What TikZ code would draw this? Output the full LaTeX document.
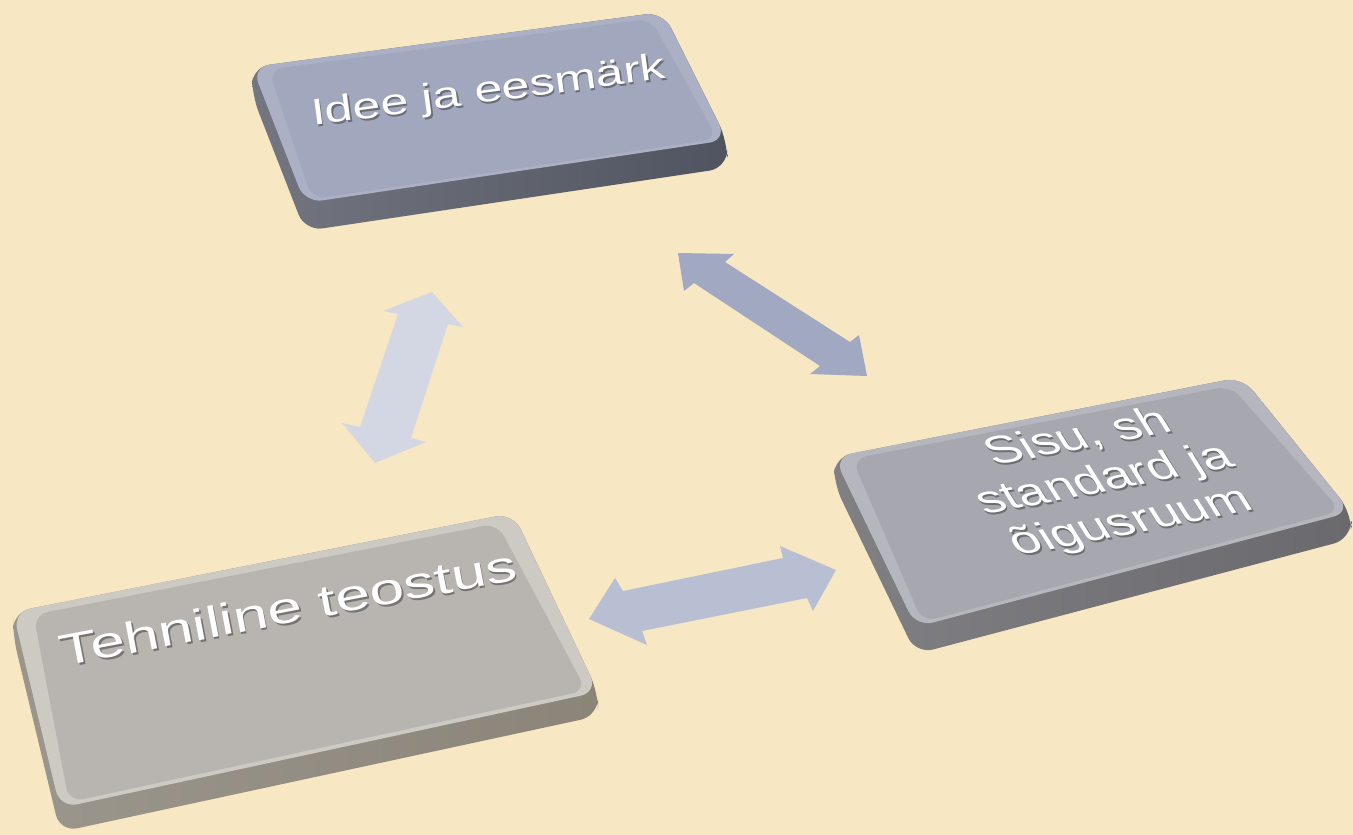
\documentclass[tikz,border=0pt]{standalone}
\usepackage{fontspec}
\setmainfont{Liberation Sans}
\usetikzlibrary{calc}
\definecolor{bgcol}{RGB}{248,231,195}
\definecolor{ideerim}{RGB}{171,176,197}
\definecolor{ideeface}{RGB}{161,167,188}
\definecolor{ideeside}{RGB}{80,84,96}
\definecolor{sisurim}{RGB}{182,183,190}
\definecolor{sisuface}{RGB}{166,167,175}
\definecolor{sisuside}{RGB}{106,106,110}
\definecolor{tehnrim}{RGB}{205,201,195}
\definecolor{tehnface}{RGB}{184,180,176}
\definecolor{tehnside}{RGB}{138,132,121}
\definecolor{arrowA}{RGB}{211,215,227}
\definecolor{arrowB}{RGB}{160,168,194}
\definecolor{arrowC}{RGB}{185,191,211}
\tikzset{
  slabouter/.style={rounded corners=10pt},
  slabinner/.style={rounded corners=8pt},
  slabtext/.style={text=white, inner sep=0pt},
  slabshadow/.style={text=black!75, opacity=0.55, inner sep=0pt}
}
\begin{document}
\begin{tikzpicture}[x=0.02cm,y=-0.02cm]
	\fill[bgcol] (0,0) rectangle (1353,835);
	\useasboundingbox (0,0) rectangle (1353,835);
	\coordinate (a1) at (252,67);
	\coordinate (a2) at (663,12);
	\coordinate (a3) at (727,140);
	\coordinate (a4) at (305,203);
	\shade[slabouter, left color=ideeside!80!white, right color=ideeside] (a1) -- (a2) -- (a3) -- ($(a3)+(0,28)$) -- ($(a4)+(0,28)$) -- ($(a1)+(0,28)$) -- cycle;
	\fill[slabouter, ideerim] (a1) -- (a2) -- (a3) -- (a4) -- cycle;
	\fill[slabinner, ideeface] ($(a1)!0.035!(a3)$) -- ($(a2)!0.035!(a4)$) -- ($(a3)!0.02!(a1)$) -- ($(a4)!0.02!(a2)$) -- cycle;
	\coordinate (b1) at (834,457);
	\coordinate (b2) at (1242,377);
	\coordinate (b3) at (1351,512);
	\coordinate (b4) at (916,627);
	\shade[slabouter, left color=sisuside!85!white, right color=sisuside] (b1) -- (b2) -- (b3) -- ($(b3)+(0,27)$) -- ($(b4)+(0,27)$) -- ($(b1)+(0,27)$) -- cycle;
	\fill[slabouter, sisurim] (b1) -- (b2) -- (b3) -- (b4) -- cycle;
	\fill[slabinner, sisuface] ($(b1)!0.035!(b3)$) -- ($(b2)!0.035!(b4)$) -- ($(b3)!0.02!(b1)$) -- ($(b4)!0.02!(b2)$) -- cycle;
	\coordinate (c1) at (13,612);
	\coordinate (c2) at (513,513);
	\coordinate (c3) at (598,692);
	\coordinate (c4) at (60,808);
	\shade[slabouter, left color=tehnside!85!white, right color=tehnside] (c1) -- (c2) -- (c3) -- ($(c3)+(0,24)$) -- ($(c4)+(0,24)$) -- ($(c1)+(0,24)$) -- cycle;
	\fill[slabouter, tehnrim] (c1) -- (c2) -- (c3) -- (c4) -- cycle;
	\fill[slabinner, tehnface] ($(c1)!0.035!(c3)$) -- ($(c2)!0.035!(c4)$) -- ($(c3)!0.02!(c1)$) -- ($(c4)!0.02!(c2)$) -- cycle;
	\fill[arrowA] (432,292) -- (463,327) -- (448,324) -- (411,438) -- (426,442) -- (375,463) -- (342,423) -- (360,427) -- (398,314) -- (383,311) -- cycle;
	\fill[arrowB] (678,253) -- (734,254) -- (725,262) -- (850,342) -- (859,335) -- (867,376) -- (810,374) -- (820,366) -- (694,283) -- (684,291) -- cycle;
	\fill[arrowC] (589,619) -- (615,578) -- (623,591) -- (783,558) -- (780,546) -- (836,570) -- (813,611) -- (807,598) -- (642,631) -- (647,645) -- cycle;
	\node[slabshadow, font=\fontsize{21}{24}\selectfont, anchor=base, rotate=7.6, xscale=1.36] (ideeS) at (491.5,104) {Idee ja eesmärk};
	\node[slabtext, font=\fontsize{21}{24}\selectfont, anchor=base, rotate=7.6, xscale=1.36] (idee) at (490,102) {Idee ja eesmärk};
	\node[slabshadow, font=\fontsize{23}{26.5}\selectfont, align=center, rotate=11, xscale=1.28, xslant=-0.3] (sisuS) at (1106.5,483) {Sisu, sh\\standard ja\\õigusruum};
	\node[slabtext, font=\fontsize{23}{26.5}\selectfont, align=center, rotate=11, xscale=1.28, xslant=-0.3] (sisu) at (1105,481) {Sisu, sh\\standard ja\\õigusruum};
	\node[slabshadow, font=\fontsize{25}{28}\selectfont, anchor=base, rotate=10.8, xscale=1.42] (tehnS) at (292.5,625) {Tehniline teostus};
	\node[slabtext, font=\fontsize{25}{28}\selectfont, anchor=base, rotate=10.8, xscale=1.42] (tehn) at (291,623) {Tehniline teostus};
\end{tikzpicture}
\end{document}
